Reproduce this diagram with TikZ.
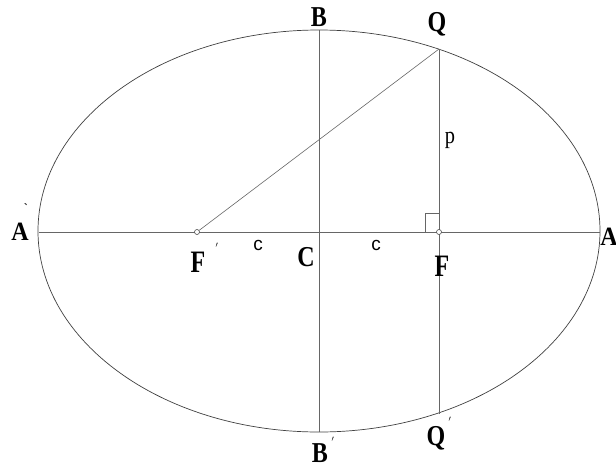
\documentclass[tikz,border=0pt]{standalone}
\usepackage{fontspec}
\setmainfont{Liberation Serif}
\newfontfamily\sansf{Liberation Sans}
\begin{document}
\begin{tikzpicture}[x=1pt,y=-1pt,
  ln/.style={draw=black!60, line width=0.6pt},
  curve/.style={draw=black!75, line width=0.7pt},
  big/.style={font=\fontsize{24}{24}\selectfont\bfseries, inner sep=0pt},
  primemark/.style={font=\fontsize{12}{12}\selectfont\bfseries, inner sep=0pt},
  lc/.style={font=\sansf\fontsize{19}{19}\selectfont, inner sep=0pt},
  lp/.style={font=\fontsize{24}{24}\selectfont, inner sep=0pt},
  focus/.style={circle, draw=black!70, fill=white, line width=0.6pt, inner sep=0pt, minimum size=5pt}]
\useasboundingbox (0,0) rectangle (616,472);
\coordinate (C) at (319,231);
\coordinate (Ap) at (39,232);
\coordinate (A) at (600,232);
\coordinate (B) at (319,30);
\coordinate (Bp) at (319,432);
\coordinate (Q) at (439,49);
\coordinate (Qp) at (439,414);
\draw[curve] (C) ellipse [x radius=281, y radius=201];
\draw[ln] (Ap) -- (A);
\draw[ln] (B) -- (Bp);
\draw[ln] (Q) -- (Qp);
\node[focus] (Fp) at (197,232) {};
\node[focus] (F) at (439,232) {};
\draw[ln] (Fp) -- (Q);
\draw[ln] ([xshift=-14pt]F.center) -- ++(0,-19) -- ++(14,0);
% labels
\node[big] (lB) at (319,17) {\scalebox{1}[1.2]{B}};
\node[big] (lQ) at (437,24) {\scalebox{1}[1.2]{Q}};
\node[big] (lAp) at (20,232) {\scalebox{1}[1.1]{A}};
\node[primemark] (pAp) at (26,209) {\`{}};
\node[big] (lA) at (609,237) {\scalebox{1}[1.1]{A}};
\node[big] (lFp) at (198,262) {\scalebox{1}[1.3]{F}};
\node[primemark] (pFp) at (217,247) {$'$};
\node[big] (lC) at (306,257) {\scalebox{1}[1.2]{C}};
\node[big] (lF) at (442,266) {\scalebox{1}[1.3]{F}};
\node[big] (lBp) at (320,453) {\scalebox{1}[1.2]{B}};
\node[primemark] (pBp) at (333,441) {$'$};
\node[big] (lQp) at (436,438) {\scalebox{1}[1.2]{Q}};
\node[primemark] (pQp) at (450,421) {$'$};
\node[lc] (c1) at (258,245) {c};
\node[lc] (c2) at (376,245) {c};
\node[lp] (lp) at (450,140) {\scalebox{0.85}[1]{p}};
\end{tikzpicture}
\end{document}
